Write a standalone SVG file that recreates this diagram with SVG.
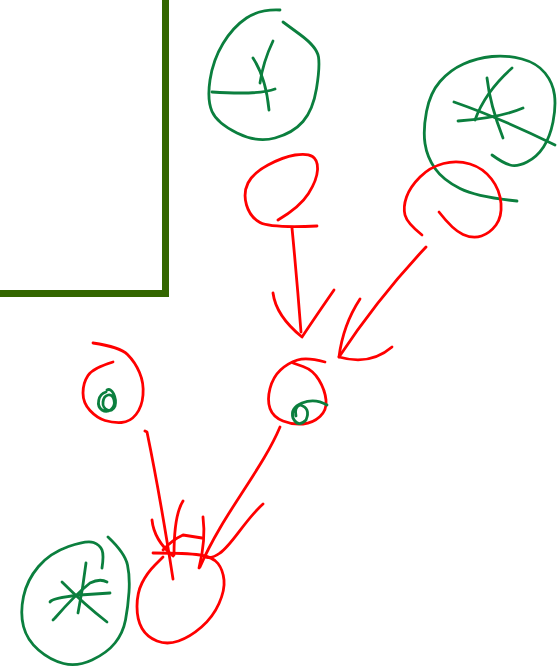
<svg xmlns="http://www.w3.org/2000/svg" width="557" height="668" viewBox="0 0 557 668">
<style>
.g{fill:none;stroke:#0b7f3e;stroke-width:2.8;stroke-linecap:round;stroke-linejoin:round}
.r{fill:none;stroke:#ff0000;stroke-width:2.8;stroke-linecap:round;stroke-linejoin:round}
.box{fill:none;stroke:#336600;stroke-width:7}
</style>
<rect width="557" height="668" fill="#ffffff"/>
<g id="frame"><path class="box" d="M-10,293.5 H165.5 V-10"/></g>
<g id="green-top-left">
<path class="g" d="M280,10 Q260,9 246.5,18 Q233,27 223,43.5 Q213,60 210,80 Q207,100 212,111.5 Q217,123 237,133 Q257,143 275,138 Q293,133 303,121.5 Q313,110 316.5,88.5 Q320,67 318.5,57 Q317,47 300,34.5 L283,22"/>
<path class="g" d="M212,92 Q260,95 275,89"/>
<path class="g" d="M253,58 Q266,78 269,110"/>
<path class="g" d="M273,41 Q263,62 260,83"/>
</g>
<g id="green-top-right">
<path class="g" d="M517,201 Q477,197 460,188.5 Q443,180 435,168.5 Q427,157 425,143.5 Q423,130 426.5,111.5 Q430,93 440,81.5 Q450,70 463.5,64 Q477,58 492,56.5 Q507,55 522,59 Q537,63 545,73 Q553,83 554.5,95 Q556,107 553,122 Q550,137 543.5,147 Q537,157 527,162 Q517,167 510,165 Q503,163 492,155"/>
<path class="g" d="M512,68 Q485,92 475,120"/>
<path class="g" d="M487,78 Q490,105 503,138"/>
<path class="g" d="M454,102 Q500,118 555,145"/>
<path class="g" d="M458,121 Q500,118 523,108"/>
</g>
<g id="red-top-left">
<path class="r" d="M278,220 Q300,207 308.5,193.5 Q317,180 317.5,170 Q318,160 312.5,156.5 Q307,153 295,155 Q283,157 268,165 Q253,173 248,183 Q243,193 246.5,205 Q250,217 260,222.5 Q270,228 317,226"/>
</g>
<g id="red-top-right">
<path class="r" d="M422,235 Q407,223 405,215 Q403,207 406.5,197 Q410,187 420,177 Q430,167 443.5,163.5 Q457,160 470,164 Q483,168 491.5,179 Q500,190 501,203.5 Q502,217 496,225 Q490,233 481.5,236 Q473,239 463,234.5 Q453,230 439,212"/>
</g>
<g id="red-left">
<path class="r" d="M93,343 Q120,347 127.5,354.5 Q135,362 139.5,372.5 Q144,383 143,395 Q142,407 136,414.5 Q130,422 121.5,422.5 Q113,423 105,420.5 Q97,418 90,410.5 Q83,403 83,393 Q83,383 88,375.5 Q93,368 113,362"/>
<path class="g" d="M106,392 C98,394 96,406 102,410 C108,414 116,408 114,400 C112,392 104,394 103,402 C102,410 112,414 115,406 C117,398 112,387 107,390"/>
</g>
<g id="red-middle">
<path class="r" d="M325,362 Q307,357 297.5,360 Q288,363 280.5,370 Q273,377 270,388.5 Q267,400 270,408.5 Q273,417 283,421 Q293,425 303,424 Q313,423 320,416.5 Q327,410 326,400 Q325,390 319,380 Q313,370 303,366.5 L293,363"/>
<path class="g" d="M327,405 Q315,398 302,403 Q290,408 293,418 Q298,428 306,420 Q311,408 300,405 Q294,407 296,416"/>
</g>
<g id="red-bottom">
<path class="r" d="M153,553 Q187,553 200,555 Q213,557 218,563.5 Q223,570 224,580 Q225,590 219,603.5 Q213,617 201.5,627 Q190,637 178.5,641 Q167,645 157,641 Q147,637 142,628.5 Q137,620 137,606.5 Q137,593 142,583 Q147,573 155,565 L163,557"/>
</g>
<g id="green-bottom-left">
<path class="g" d="M102,568 Q104,555 102,550 Q100,545 93.5,542.5 Q87,540 68.5,546.5 Q50,553 38.5,566.5 Q27,580 23.5,596.5 Q20,613 23.5,626.5 Q27,640 38.5,650 Q50,660 63.5,663.5 Q77,667 92,660 Q107,653 115,643 Q123,633 125.5,620 Q128,607 129,592 Q130,577 127.5,565 Q125,553 108,537"/>
<path class="g" d="M86,563 Q83,588 78,613"/>
<path class="g" d="M62,582 Q85,605 107,622"/>
<path class="g" d="M50,602 Q52,598 80,595 L110,593"/>
<path class="g" d="M53,620 L55,618 Q75,595 90,583 Q100,578 107,582"/>
</g>
<g id="connectors">
<path class="r" d="M292,228 Q297,280 301,332"/>
<path class="r" d="M273,293 Q276,316 302,337 Q316,316 334,290"/>
<path class="r" d="M426,247 Q378,298 339,357"/>
<path class="r" d="M360,299 Q343,325 339,357 Q370,366 392,347"/>
<path class="r" d="M145,431 L147,432 Q160,495 173,579"/>
<path class="r" d="M280,427 C262,470 222,515 200,567"/>
<path class="r" d="M152,520 Q154,540 173,556"/>
<path class="r" d="M183,501 Q174,515 174,555"/>
<path class="r" d="M163,550 Q172,540 183,535 L202,538"/>
<path class="r" d="M203,517 Q206,540 199,568"/>
<path class="r" d="M263,504 C245,520 232,545 220,553 Q212,559 205,557"/>
</g>
</svg>
